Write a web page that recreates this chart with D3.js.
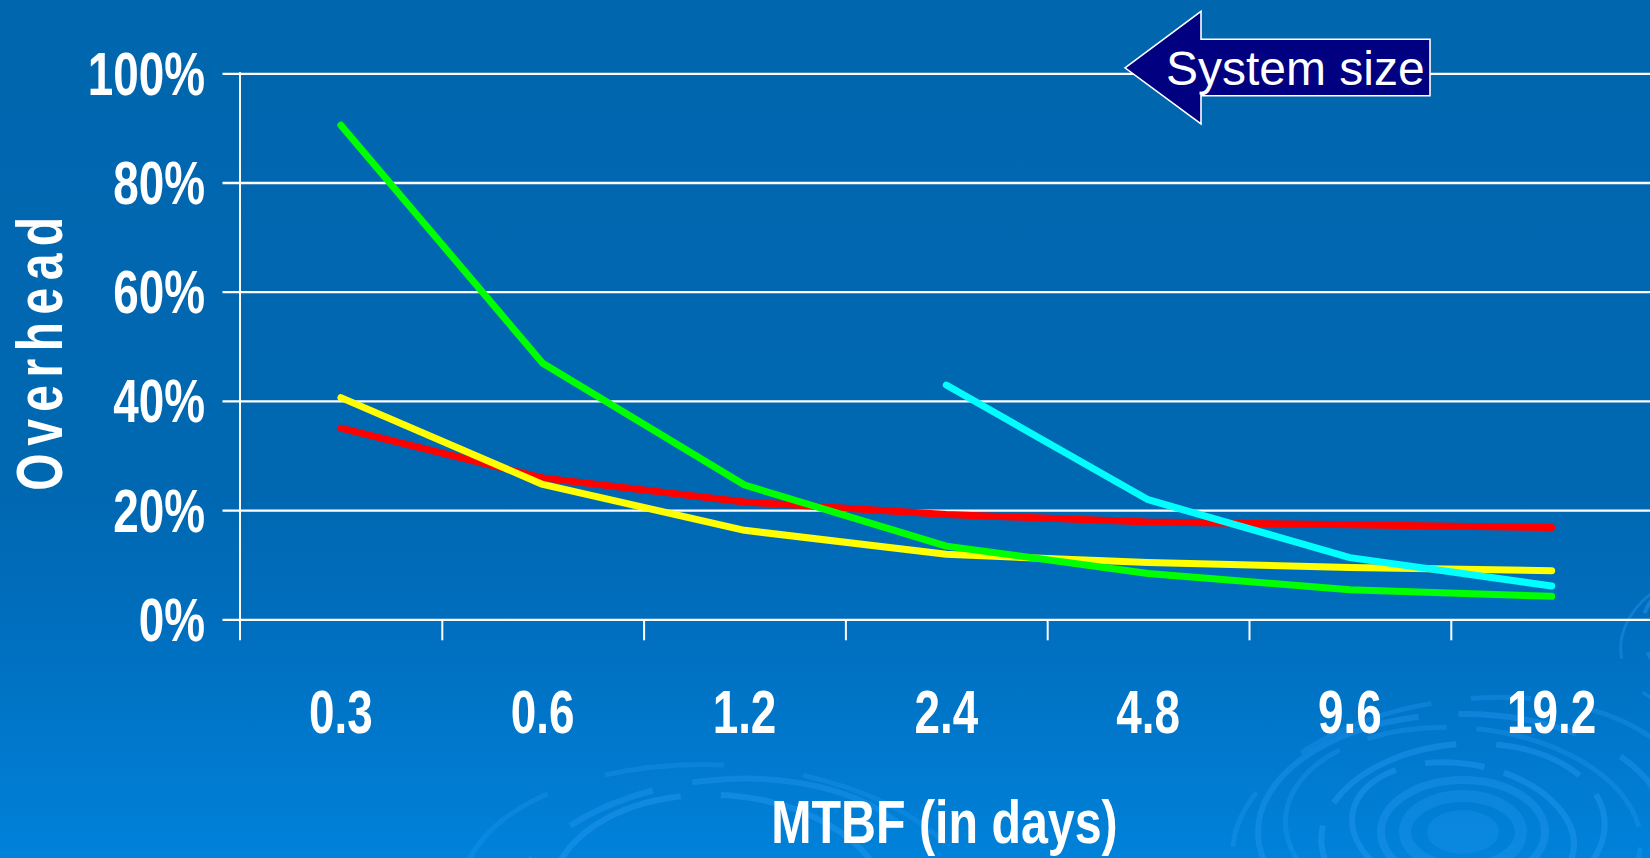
<!DOCTYPE html>
<html>
<head>
<meta charset="utf-8">
<script src="https://cdn.jsdelivr.net/npm/d3@7"></script>
<style>
  html, body { margin: 0; padding: 0; background: #0066ae; overflow: hidden; }
  svg { display: block; }
</style>
</head>
<body>
<svg id="chart" width="1650" height="858"></svg>
<script>
// MTBF categories (days) on the x axis
const categories = ["0.3", "0.6", "1.2", "2.4", "4.8", "9.6", "19.2"];

// Overhead (%) for each system size
const seriesRed    = [35.0, 25.9, 21.5, 19.2, 17.8, 17.3, 16.8];
const seriesYellow = [40.6, 24.7, 16.3, 11.9, 10.4, 9.5, 8.9];
const seriesGreen  = [90.5, 46.9, 24.6, 13.4, 8.4, 5.4, 4.2];
const seriesCyan   = [null, null, null, 42.9, 21.9, 11.3, 6.1];

// Y axis ticks (fraction) and their labels
const yTicks = [0, 0.2, 0.4, 0.6, 0.8, 1.0];
const yTickLabels = ["0%", "20%", "40%", "60%", "80%", "100%"];

const series = [
  { name: "red",    color: "#ff0000", values: seriesRed },
  { name: "yellow", color: "#ffff00", values: seriesYellow },
  { name: "green",  color: "#00ff00", values: seriesGreen },
  { name: "cyan",   color: "#00ffff", values: seriesCyan }
];

const W = 1650, H = 858;
const svg = d3.select("#chart");

// ---- background: blue gradient with faint ring swirls ----
const defs = svg.append("defs");
const grad = defs.append("linearGradient")
  .attr("id", "bg").attr("x1", 0).attr("y1", 0).attr("x2", 0).attr("y2", 1);
grad.append("stop").attr("offset", "0%").attr("stop-color", "#0066ae");
grad.append("stop").attr("offset", "58%").attr("stop-color", "#0068b2");
grad.append("stop").attr("offset", "74%").attr("stop-color", "#006fbf");
grad.append("stop").attr("offset", "100%").attr("stop-color", "#0082da");
svg.append("rect").attr("width", W).attr("height", H).attr("fill", "url(#bg)");

const deco = svg.append("g").attr("fill", "none").attr("stroke", "#2398f2");
function ring(cx, cy, rx, ry, w, dash, op, rot) {
  deco.append("ellipse")
    .attr("cx", cx).attr("cy", cy).attr("rx", rx).attr("ry", ry)
    .attr("stroke-width", w)
    .attr("stroke-dasharray", dash)
    .attr("opacity", op)
    .attr("transform", `rotate(${rot || 0},${cx},${cy})`);
}
// bottom-right swirl
deco.append("ellipse").attr("cx", 1463).attr("cy", 832).attr("rx", 36).attr("ry", 22)
  .attr("fill", "#1a90ea").attr("stroke", "none").attr("opacity", 0.4);
ring(1463, 832, 58, 36, 12, "none", 0.35);
ring(1463, 832, 82, 52, 8, "none", 0.4);
ring(1463, 832, 112, 68, 6, "120 30 60 20", 0.45, 10);
ring(1463, 832, 142, 88, 6, "90 25 140 40", 0.45, -5);
ring(1463, 832, 178, 104, 5, "200 30 80 30", 0.35, 5);
ring(1463, 832, 205, 118, 6, "260 40 120 50", 0.4);
ring(1463, 832, 232, 132, 5, "60 60 140 40", 0.35, -8);
// bottom-centre swirl
ring(720, 905, 170, 110, 6, "160 40 200 60", 0.45, 4);
ring(720, 905, 215, 125, 6, "220 50 90 40", 0.4, -6);
ring(720, 905, 260, 140, 5, "120 80 160 60", 0.3, 3);
// right-edge fragment
ring(1720, 640, 80, 60, 4, "60 30 90 40", 0.45, 20);
ring(1720, 640, 100, 72, 3, "40 40 80 30", 0.4, -10);

// ---- scales ----
const plotLeft = 240;
const band = 201.8;
const x = d3.scaleBand().domain(categories)
  .range([plotLeft, plotLeft + band * categories.length])
  .paddingInner(0).paddingOuter(0);
const xEdge = d3.scaleLinear().domain([0, categories.length])
  .range([plotLeft, plotLeft + band * categories.length]);
const y = d3.scaleLinear().domain([0, 1]).range([619.3, 73.3]);

const fontBold = "'Liberation Sans', Arial, sans-serif";

// ---- gridlines (including the zero line) ----
const gridLeft = 222.5;
svg.append("g")
  .attr("transform", `translate(${gridLeft},0)`)
  .call(d3.axisLeft(y).tickValues(yTicks).tickSize(-(W - gridLeft)).tickFormat(""))
  .call(g => g.select(".domain").remove())
  .call(g => g.selectAll(".tick line").attr("stroke", "#ffffff").attr("stroke-width", 2.3));

// ---- y axis labels ----
svg.append("g")
  .attr("transform", `translate(${plotLeft},0)`)
  .call(d3.axisLeft(y).tickValues(yTicks).tickSize(0)
    .tickFormat((d, i) => yTickLabels[i]))
  .call(g => g.select(".domain").remove())
  .call(g => g.selectAll(".tick text")
    .attr("x", 0).attr("dy", null).attr("y", 21)
    .attr("fill", "#ffffff")
    .attr("font-family", fontBold).attr("font-weight", "bold").attr("font-size", 62)
    .attr("text-anchor", "end")
    .attr("transform", "translate(-35,0) scale(0.74,1)"));

// y axis line, running below the zero line to the tick depth
svg.append("line")
  .attr("x1", plotLeft).attr("x2", plotLeft)
  .attr("y1", y(1) - 1).attr("y2", y(0) + 21)
  .attr("stroke", "#ffffff").attr("stroke-width", 2);

// ---- x axis: boundary ticks + centred category labels ----
svg.append("g")
  .attr("transform", `translate(0,${y(0)})`)
  .call(d3.axisBottom(xEdge).tickValues(d3.range(1, categories.length)).tickSize(21).tickFormat(""))
  .call(g => g.select(".domain").remove())
  .call(g => g.selectAll(".tick line").attr("stroke", "#ffffff").attr("stroke-width", 2));

svg.append("g")
  .attr("transform", `translate(0,${y(0)})`)
  .call(d3.axisBottom(x).tickSize(0))
  .call(g => g.select(".domain").remove())
  .call(g => g.selectAll(".tick text")
    .attr("y", 0).attr("dy", null)
    .attr("fill", "#ffffff")
    .attr("font-family", fontBold).attr("font-weight", "bold").attr("font-size", 62)
    .attr("text-anchor", "middle")
    .attr("transform", "translate(0,114) scale(0.74,1)"));

// ---- axis titles ----
svg.append("text")
  .attr("transform", "translate(944.5,843) scale(0.78,1)")
  .attr("text-anchor", "middle")
  .attr("fill", "#ffffff")
  .attr("font-family", fontBold).attr("font-weight", "bold").attr("font-size", 62)
  .text("MTBF (in days)");

svg.append("text")
  .attr("transform", "translate(62,350) rotate(-90) scale(0.75,1)")
  .attr("text-anchor", "middle")
  .attr("fill", "#ffffff")
  .attr("font-family", fontBold).attr("font-weight", "bold").attr("font-size", 64)
  .attr("letter-spacing", 10)
  .text("Overhead");

// ---- series lines ----
const line = d3.line()
  .defined(v => v !== null)
  .x((v, i) => x(categories[i]) + x.bandwidth() / 2)
  .y(v => y(v / 100));

svg.append("g").selectAll("path")
  .data(series)
  .join("path")
  .attr("d", s => line(s.values))
  .attr("fill", "none")
  .attr("stroke", s => s.color)
  .attr("stroke-width", 7)
  .attr("stroke-linecap", "round")
  .attr("stroke-linejoin", "round");

// ---- "System size" arrow callout ----
const arrow = svg.append("g");
const tipX = 1125, headX = 1201, tailX = 1430;
const midY = y(1) - 5.5;
arrow.append("polygon")
  .attr("points", [
    [tipX, midY],
    [headX, midY - 56.5],
    [headX, midY - 28.5],
    [tailX, midY - 28.5],
    [tailX, midY + 28],
    [headX, midY + 28],
    [headX, midY + 56]
  ].map(p => p.join(",")).join(" "))
  .attr("fill", "#000080")
  .attr("stroke", "#ffffff")
  .attr("stroke-width", 1.6);
arrow.append("text")
  .attr("x", 1166).attr("y", midY + 17)
  .attr("fill", "#ffffff")
  .attr("font-family", "'Liberation Sans', Arial, sans-serif")
  .attr("font-size", 48)
  .text("System size");
</script>
</body>
</html>
